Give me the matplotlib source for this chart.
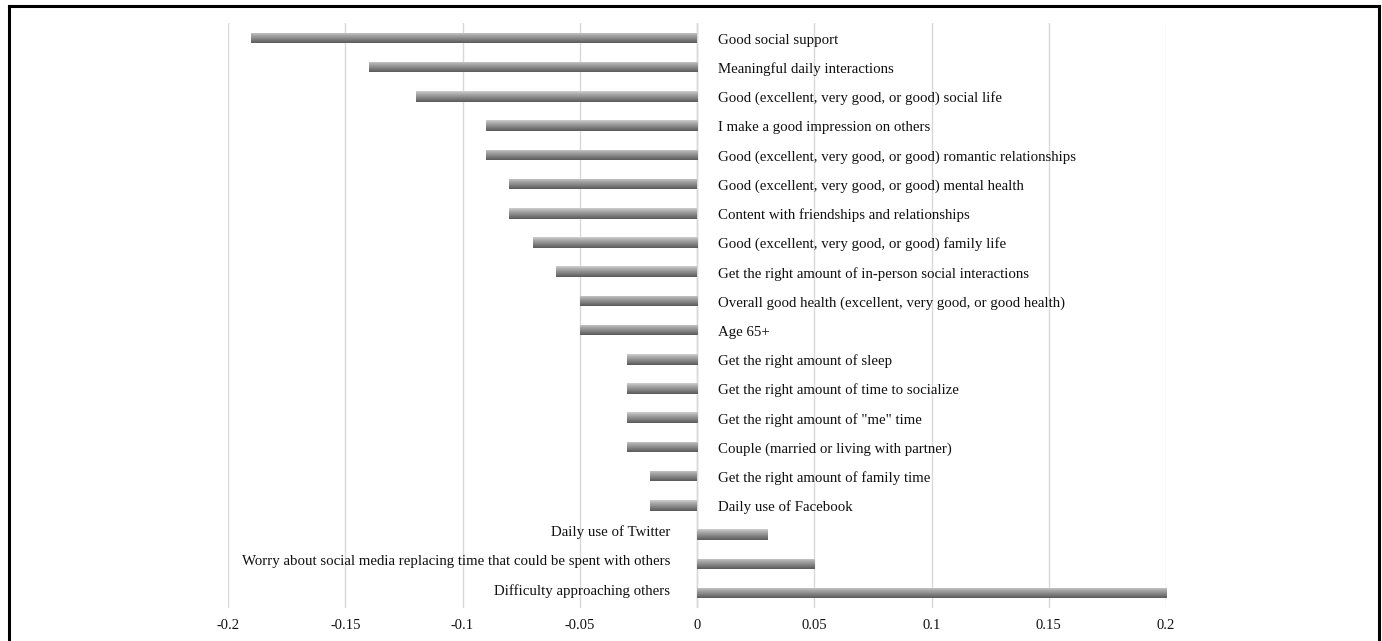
import numpy as np
import matplotlib
matplotlib.use("Agg")
import matplotlib.pyplot as plt
from matplotlib.lines import Line2D
from matplotlib.colors import LinearSegmentedColormap

categories = [
    "Good social support",
    "Meaningful daily interactions",
    "Good (excellent, very good, or good) social life",
    "I make a good impression on others",
    "Good (excellent, very good, or good) romantic relationships",
    "Good (excellent, very good, or good) mental health",
    "Content with friendships and relationships",
    "Good (excellent, very good, or good) family life",
    "Get the right amount of in-person social interactions",
    "Overall good health (excellent, very good, or good health)",
    "Age 65+",
    "Get the right amount of sleep",
    "Get the right amount of time to socialize",
    "Get the right amount of \"me\" time",
    "Couple (married or living with partner)",
    "Get the right amount of family time",
    "Daily use of Facebook",
    "Daily use of Twitter",
    "Worry about social media replacing time that could be spent with others",
    "Difficulty approaching others",
]
values = [-0.19, -0.14, -0.12, -0.09, -0.09, -0.08, -0.08, -0.07, -0.06, -0.05,
          -0.05, -0.03, -0.03, -0.03, -0.03, -0.02, -0.02, 0.03, 0.05, 0.2]
xticks = [-0.2, -0.15, -0.1, -0.05, 0, 0.05, 0.1, 0.15, 0.2]
xticklabels = ["-0.2", "-0.15", "-0.1", "-0.05", "0", "0.05", "0.1", "0.15", "0.2"]

plt.rcParams['font.family'] = ['Liberation Serif', 'DejaVu Serif']

fig = plt.figure(figsize=(13.82, 6.41), dpi=100)
ax = fig.add_axes([228/1382, 1 - 607.6/641, (1166-228)/1382, (607.6-23.4)/641])

y = np.arange(len(categories))
h = 0.36
bars = ax.barh(y, values, height=h, color='#8a8a8a', zorder=3)

cmap = LinearSegmentedColormap.from_list(
    'cyl', ['#d0d0d0', '#acacac', '#929292', '#767676', '#5a5a5a'])
grad = np.linspace(0, 1, 64).reshape(-1, 1)
for yi, v, b in zip(y, values, bars):
    im = ax.imshow(grad, cmap=cmap, aspect='auto', zorder=4,
                   extent=(min(0, v), max(0, v), yi + h/2, yi - h/2),
                   interpolation='bilinear')
    im.set_clip_path(b)

ax.set_xlim(-0.2, 0.2)
ax.set_ylim(len(categories) - 0.5, -0.5)
ax.set_xticks(xticks)
ax.set_xticklabels(xticklabels, fontsize=10.5, color='#111111')
ax.set_yticks([])
ax.tick_params(axis='x', length=0, pad=8)
ax.grid(axis='x', color='#d9d9d9', linewidth=1, zorder=0)
ax.axvline(0, color='#d0d0d0', linewidth=1, zorder=1)
for s in ax.spines.values():
    s.set_visible(False)

for yi, v, lab in zip(y, values, categories):
    if v < 0:
        ax.annotate(lab, xy=(0, yi), xytext=(21, -2), textcoords='offset pixels',
                    ha='left', va='center', fontsize=10.75, color='#111111')
    else:
        ax.annotate(lab, xy=(0, yi), xytext=(-27, 2), textcoords='offset pixels',
                    ha='right', va='center', fontsize=10.75, color='#111111')

# figure frame
lw = 2.2
fig.add_artist(Line2D([9/1382, 1379/1382], [1 - 6/641, 1 - 6/641], color='black', lw=lw, transform=fig.transFigure))
fig.add_artist(Line2D([9/1382, 9/1382], [0, 1 - 6/641], color='black', lw=lw, transform=fig.transFigure))
fig.add_artist(Line2D([1379/1382, 1379/1382], [0, 1 - 6/641], color='black', lw=lw, transform=fig.transFigure))

fig.savefig('out.png', dpi=100)
